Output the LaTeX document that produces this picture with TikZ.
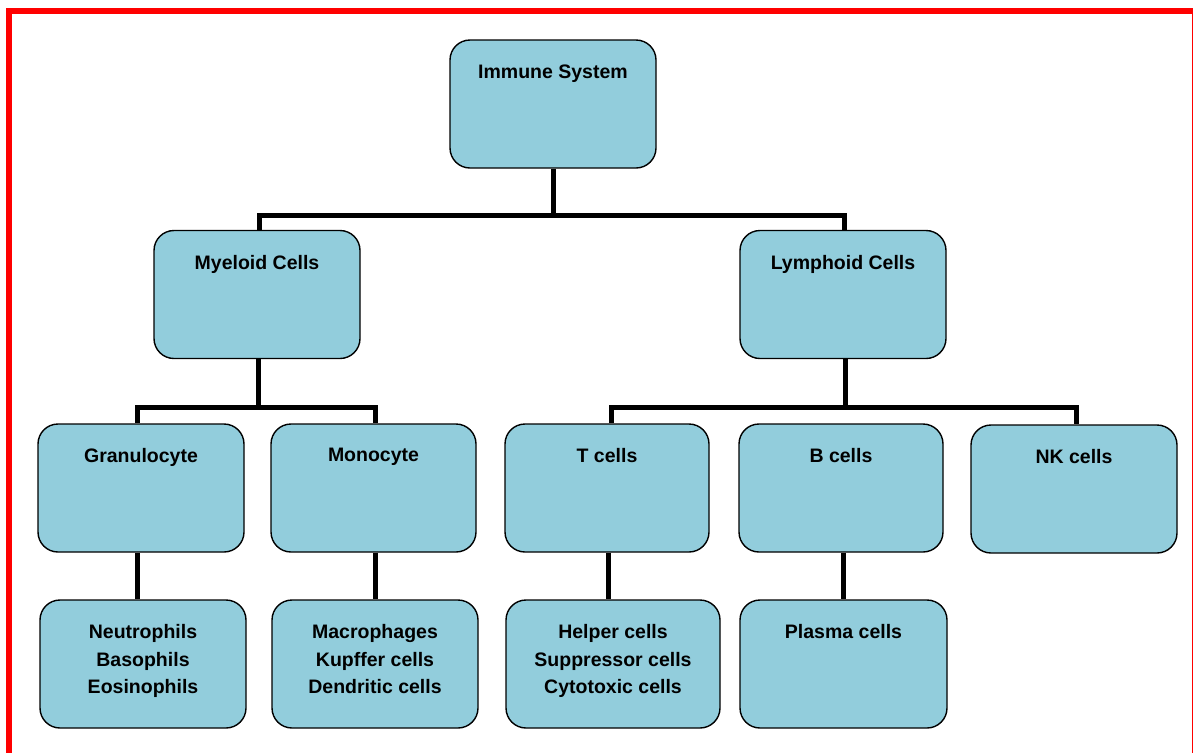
\documentclass[tikz,border=0pt]{standalone}
\usepackage{fontspec}
\setmainfont{Liberation Sans}
\definecolor{cellblue}{RGB}{146,205,220}
\definecolor{framered}{RGB}{255,0,0}
\tikzset{
  cellbox/.style={draw=black, line width=1.4pt, fill=cellblue, rounded corners=20pt,
    minimum width=206pt, minimum height=128pt, inner sep=0pt},
  celltext/.style={anchor=north, inner sep=0pt, align=center,
    font=\fontsize{19.5}{27.5}\selectfont\bfseries},
  conn/.style={draw=black, line width=5pt, line join=miter}
}
\begin{document}
\begin{tikzpicture}[x=1pt,y=-1pt]
\useasboundingbox (0,0) rectangle (1193,753);
% red frame (top and left bars, thin right edge)
\fill[framered] (6,8) rectangle (1193,14);
\fill[framered] (6,8) rectangle (12,753);
\fill[framered] (1191.5,8) rectangle (1193,753);

% boxes
\node[cellbox] (imm) at (553,104) {};
\node[cellbox] (mye) at (257,294.5) {};
\node[cellbox] (lym) at (843,294.5) {};
\node[cellbox] (gra) at (141,488) {};
\node[cellbox, minimum width=205pt] (mon) at (373.5,488) {};
\node[cellbox, minimum width=204pt] (tce) at (607,488) {};
\node[cellbox, minimum width=204pt] (bce) at (841,488) {};
\node[cellbox] (nkc) at (1074,489) {};
\node[cellbox] (neu) at (143,664) {};
\node[cellbox] (mac) at (375,664) {};
\node[cellbox, minimum width=214pt] (hel) at (613,664) {};
\node[cellbox, minimum width=207pt] (pla) at (843.5,664) {};

% labels
\node[celltext] (immT) at ([yshift=-25pt]imm.north) {Immune System};
\node[celltext] (myeT) at ([yshift=-25pt]mye.north) {Myeloid Cells};
\node[celltext] (lymT) at ([yshift=-25pt]lym.north) {Lymphoid Cells};
\node[celltext] (graT) at ([yshift=-25pt]gra.north) {Granulocyte};
\node[celltext] (monT) at ([yshift=-25pt]mon.north) {Monocyte};
\node[celltext] (tceT) at ([yshift=-25pt]tce.north) {T cells};
\node[celltext] (bceT) at ([yshift=-25pt]bce.north) {B cells};
\node[celltext] (nkcT) at ([yshift=-25pt]nkc.north) {NK cells};
\node[celltext] (neuT) at ([yshift=-25pt]neu.north) {Neutrophils\\Basophils\\Eosinophils};
\node[celltext] (macT) at ([yshift=-25pt]mac.north) {Macrophages\\Kupffer cells\\Dendritic cells};
\node[celltext] (helT) at ([yshift=-25pt]hel.north) {Helper cells\\Suppressor cells\\Cytotoxic cells};
\node[celltext] (plaT) at ([yshift=-25pt]pla.north) {Plasma cells};

% bus levels
\coordinate (busTop) at (553,215);
\coordinate (busLeft) at (258,407);
\coordinate (busRight) at (845,407);

% connectors
\draw[conn] (imm.south) -- (imm.south |- busTop);
\draw[conn] ([xshift=2pt]mye.north) -- ([xshift=2pt]mye.north |- busTop)
  -- ([xshift=1pt]lym.north |- busTop) -- ([xshift=1pt]lym.north);

\draw[conn] ([xshift=1pt]mye.south) -- ([xshift=1pt]mye.south |- busLeft);
\draw[conn] ([xshift=-4pt]gra.north) -- ([xshift=-4pt]gra.north |- busLeft)
  -- ([xshift=1.5pt]mon.north |- busLeft) -- ([xshift=1.5pt]mon.north);

\draw[conn] ([xshift=2pt]lym.south) -- ([xshift=2pt]lym.south |- busRight);
\draw[conn] ([xshift=4pt]tce.north) -- ([xshift=4pt]tce.north |- busRight)
  -- ([xshift=2pt]nkc.north |- busRight) -- ([xshift=2pt]nkc.north);

\draw[conn] ([xshift=-4pt]gra.south) -- ([xshift=-4pt]gra.south |- neu.north);
\draw[conn] ([xshift=1.5pt]mon.south) -- ([xshift=1.5pt]mon.south |- mac.north);
\draw[conn] ([xshift=1pt]tce.south) -- ([xshift=1pt]tce.south |- hel.north);
\draw[conn] ([xshift=2pt]bce.south) -- ([xshift=2pt]bce.south |- pla.north);
\end{tikzpicture}
\end{document}
